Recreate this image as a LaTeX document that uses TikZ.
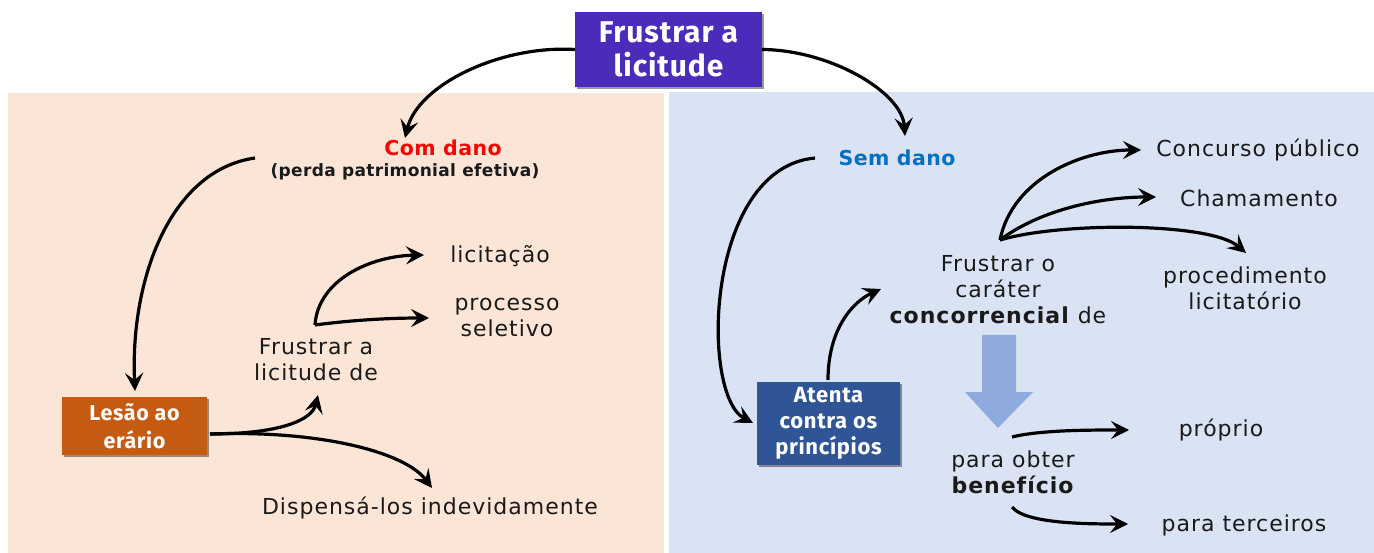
\documentclass[tikz,border=0pt]{standalone}
\usepackage{fontspec}
\setmainfont{DejaVu Sans}
\newfontfamily\bodyfont[LetterSpace=4.5]{DejaVu Sans}
\newfontfamily\hdrfont[LetterSpace=2]{DejaVu Sans}
\newfontfamily\boxfont[LetterSpace=3]{Fira Sans}
\usetikzlibrary{arrows.meta,shadows}
\definecolor{peach}{HTML}{FBE5D6}
\definecolor{lblue}{HTML}{DAE3F3}
\definecolor{titlec}{HTML}{4A2BBA}
\definecolor{lesaoc}{HTML}{C55A11}
\definecolor{atentac}{HTML}{2F5597}
\definecolor{barrow}{HTML}{8FAADC}
\definecolor{redc}{HTML}{FF0000}
\definecolor{bluec}{HTML}{0070C0}
\definecolor{ink}{HTML}{1A1A1A}
\begin{document}
\begin{tikzpicture}[x=1pt,y=-1pt,
  conn/.style={line width=3.2pt, draw=black, -{Stealth[length=18pt,width=18pt,inset=7pt]}},
  txt/.style={inner sep=0pt, align=center, text=ink, font=\bodyfont\fontsize{22}{26}\selectfont},
  hdr/.style={inner sep=0pt, align=center, font=\hdrfont\bfseries\fontsize{20.5}{24}\selectfont},
  hbox/.style={inner sep=0pt, align=center, text=white, draw=none,
    drop shadow={shadow xshift=2pt, shadow yshift=-2pt, opacity=0.4, fill=black}}]
\useasboundingbox (0,0) rectangle (1374,553);
\fill[white] (0,0) rectangle (1374,553);
\fill[peach] (8,93) rectangle (664,553);
\fill[lblue] (669,92) rectangle (1374,553);

% boxes
\node[hbox, fill=titlec, minimum width=187pt, minimum height=75pt,
  font=\boxfont\bfseries\fontsize{30}{34}\selectfont] (title) at (668.5,49.5) {Frustrar a\\licitude};
\node[hbox, fill=lesaoc, minimum width=145pt, minimum height=58pt,
  font=\boxfont\bfseries\fontsize{21.5}{28}\selectfont] (lesao) at (134.5,426) {Lesão ao\\erário};
\node[hbox, fill=atentac, minimum width=143pt, minimum height=83pt,
  font=\boxfont\bfseries\fontsize{22}{26}\selectfont] (atenta) at (828.5,423.5) {Atenta\\contra os\\princípios};

% texts left
\node[hdr, text=redc] (comdano) at (443,148) {Com dano};
\node[hdr, text=ink, font=\hdrfont\bfseries\fontsize{17}{18}\selectfont] (perda) at (405,172) {(perda patrimonial efetiva)};
\node[txt] (frustrara) at (316,360) {Frustrar a\\licitude de};
\node[txt] (licitacao) at (500,256) {licitação};
\node[txt] (processo) at (507,317) {processo\\seletivo};
\node[txt] (dispensa) at (430,508) {Dispensá-los indevidamente};

% texts right
\node[hdr, text=bluec] (semdano) at (897,158) {Sem dano};
\node[txt] (frustraro) at (998,290) {Frustrar o\\caráter\\\textbf{concorrencial} de};
\node[txt] (concurso) at (1258,150) {Concurso público};
\node[txt] (chamamento) at (1259,198) {Chamamento};
\node[txt] (procedimento) at (1245,288) {procedimento\\licitatório};
\node[txt] (paraobter) at (1013,472) {para obter\\\textbf{benefício}};
\node[txt] (proprio) at (1221,430) {próprio};
\node[txt] (terceiros) at (1244,525) {para terceiros};

% connector points
\coordinate (tL) at (title.west);
\coordinate (tR) at (title.east);
\coordinate (cdEnd) at (405,138);
\coordinate (sdEnd) at (905,136);
\coordinate (cdStart) at (255,158);
\coordinate (lesTop) at (135,391);
\coordinate (lesR) at (210,434);
\coordinate (frAEnd) at (318,395);
\coordinate (dispEnd) at (432,488);
\coordinate (fork1) at (315,325);
\coordinate (licEnd) at (424,255);
\coordinate (procEnd) at (429,318);
\coordinate (sdStart) at (815,158);
\coordinate (atEnd) at (753,423);
\coordinate (atTop) at (828,380);
\coordinate (froEnd) at (881,289);
\coordinate (fork2) at (1000,240);
\coordinate (concEnd) at (1141,150);
\coordinate (chamEnd) at (1156,197);
\coordinate (procdEnd) at (1246,253);
\coordinate (pobA) at (1012,437);
\coordinate (pobB) at (1012,507);
\coordinate (propEnd) at (1129,430);
\coordinate (tercEnd) at (1128,524);

% connectors
\draw[conn] (tL) .. controls (500,45) and (418,85) .. (cdEnd);
\draw[conn] (tR) .. controls (830,50) and (902,92) .. (sdEnd);
\draw[conn] (cdStart) .. controls (170,170) and (130,280) .. (lesTop);
\draw[conn] (lesR) .. controls (280,434) and (312,420) .. (frAEnd);
\draw[conn] (lesR) .. controls (320,430) and (405,452) .. (dispEnd);
\draw[conn] (fork1) .. controls (318,280) and (370,256) .. (licEnd);
\draw[conn] (fork1) .. controls (360,319) and (400,318) .. (procEnd);
\draw[conn] (sdStart) .. controls (705,168) and (700,395) .. (atEnd);
\draw[conn] (atTop) .. controls (828,330) and (852,302) .. (froEnd);
\draw[conn] (fork2) .. controls (1012,180) and (1080,150) .. (concEnd);
\draw[conn] (fork2) .. controls (1040,210) and (1100,197) .. (chamEnd);
\draw[conn] (fork2) .. controls (1060,222) and (1210,222) .. (procdEnd);
\draw[conn] (pobA) .. controls (1040,430) and (1090,430) .. (propEnd);
\draw[conn] (pobB) .. controls (1025,524) and (1090,524) .. (tercEnd);

% block arrow
\fill[barrow] (982,335) -- (1016,335) -- (1016,392) -- (1033,392) -- (998,428) -- (965,392) -- (982,392) -- cycle;
\end{tikzpicture}
\end{document}
